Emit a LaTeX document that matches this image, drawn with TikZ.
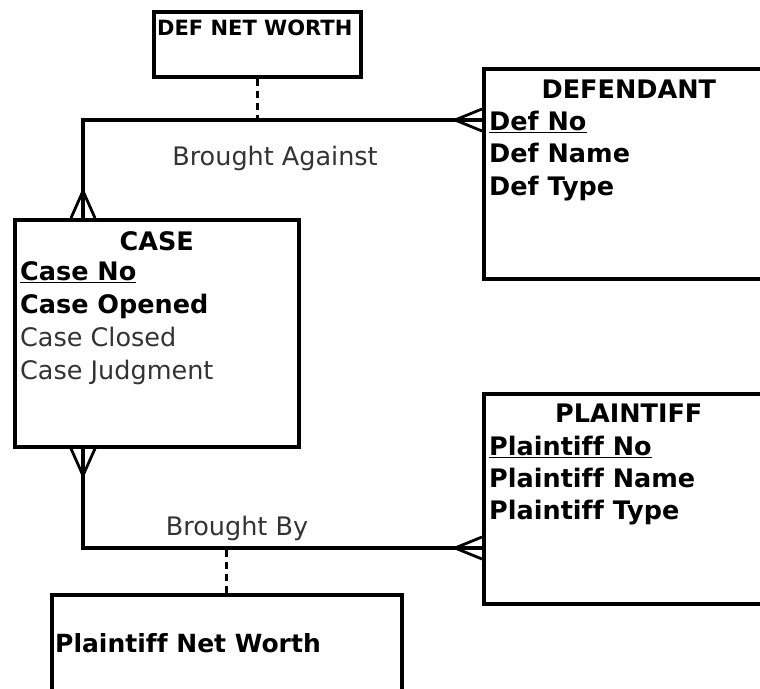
\documentclass[tikz,border=0pt]{standalone}
\usepackage{fontspec}
\setmainfont{DejaVu Sans}[Ligatures=NoCommon]
\usetikzlibrary{positioning, calc}

\tikzset{
    entity/.style={draw, line width=3.6pt, anchor=north west, inner sep=0pt},
    title/.style={anchor=base, inner sep=0pt, font=\fontsize{25.5}{30}\selectfont\bfseries},
    key/.style={anchor=base west, inner sep=0pt, font=\fontsize{25.5}{30}\selectfont\bfseries},
    plain/.style={anchor=base west, inner sep=0pt, text=black!80, font=\fontsize{25.5}{30}\selectfont},
    rel/.style={line width=3.2pt},
    crow/.style={line width=2.8pt},
    attrline/.style={line width=3.2pt, dash pattern=on 7pt off 5pt}
}

\begin{document}
\begin{tikzpicture}[x=1pt, y=-1pt]
    \useasboundingbox (0,0) rectangle (760,688);

    % entities
    \node[entity, minimum width=284pt, minimum height=227pt] (case) at (13,218) {};
    \node[entity, minimum width=290pt, minimum height=210pt] (defendant) at (482,67) {};
    \node[entity, minimum width=290pt, minimum height=210pt] (plaintiff) at (482,392) {};
    \node[entity, minimum width=207pt, minimum height=65pt] (defworth) at (152,10) {};
    \node[entity, minimum width=350pt, minimum height=110pt] (plworth) at (50,593) {};

    % case
    \node[title] (casename) at ($(case.north)+(0,32)$) {CASE};
    \node[key] (caseno) at ($(case.north west)+(7,62)$) {\underline{Case No}};
    \node[key, below=33pt of caseno.base west, anchor=base west] (caseopened) {Case Opened};
    \node[plain, below=33pt of caseopened.base west, anchor=base west] (caseclosed) {Case Closed};
    \node[plain, below=33pt of caseclosed.base west, anchor=base west] (casejudg) {Case Judgment};

    % defendant
    \node[title] (defname) at ($(defendant.north)+(0,31)$) {DEFENDANT};
    \node[key] (defno) at ($(defendant.north west)+(7,63)$) {\underline{Def No}};
    \node[key, below=32.5pt of defno.base west, anchor=base west] (defnm) {Def Name};
    \node[key, below=32.5pt of defnm.base west, anchor=base west] (deftype) {Def Type};

    % plaintiff
    \node[title] (plname) at ($(plaintiff.north)+(0,30)$) {PLAINTIFF};
    \node[key] (plno) at ($(plaintiff.north west)+(7,63)$) {\underline{Plaintiff No}};
    \node[key, below=32pt of plno.base west, anchor=base west] (plnm) {Plaintiff Name};
    \node[key, below=32pt of plnm.base west, anchor=base west] (pltype) {Plaintiff Type};

    % relationship attributes
    \node[key, font=\fontsize{21}{24}\selectfont\bfseries] (defworthtxt) at ($(defworth.north west)+(5,25)$) {DEF NET WORTH};
    \node[key, font=\fontsize{25}{30}\selectfont\bfseries] (plworthtxt) at ($(plworth.north west)+(5,59)$) {Plaintiff Net Worth};

    % brought against
    \coordinate (ca) at ($(case.north west)+(70,0)$);
    \coordinate (da) at ($(defendant.north west)+(0,53)$);
    \draw[rel] (ca) |- (da);
    \draw[crow] ($(ca)+(0,-27)$) -- ($(ca)+(-12,0)$);
    \draw[crow] ($(ca)+(0,-27)$) -- ($(ca)+(12,0)$);
    \draw[crow] ($(da)+(-27,0)$) -- ($(da)+(0,-11)$);
    \draw[crow] ($(da)+(-27,0)$) -- ($(da)+(0,11)$);
    \draw[attrline] (defworth.south) -- (defworth.south |- da);
    \node[plain, anchor=base] (against) at (275,165) {Brought Against};

    % brought by
    \coordinate (cb) at ($(case.south west)+(70,0)$);
    \coordinate (pa) at ($(plaintiff.north west)+(0,156)$);
    \draw[rel] (cb) |- (pa);
    \draw[crow] ($(cb)+(0,27)$) -- ($(cb)+(-12,0)$);
    \draw[crow] ($(cb)+(0,27)$) -- ($(cb)+(12,0)$);
    \draw[crow] ($(pa)+(-27,0)$) -- ($(pa)+(0,-11)$);
    \draw[crow] ($(pa)+(-27,0)$) -- ($(pa)+(0,11)$);
    \draw[attrline] (plworth.north) -- (plworth.north |- pa);
    \node[plain, anchor=base] (by) at (237,535) {Brought By};
\end{tikzpicture}
\end{document}
